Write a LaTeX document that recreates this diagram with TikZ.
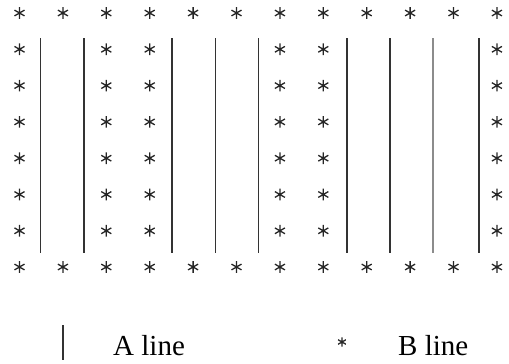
\documentclass[tikz,border=0pt]{standalone}
\usepackage{fontspec}
\setmainfont{Liberation Serif}
\begin{document}
\begin{tikzpicture}[x=1pt,y=-1pt,
  bstar/.style={circle, inner sep=0pt, minimum size=#1, 
    path picture={
      \draw[line width=1.3pt, black!85]
        ([shift={(90:0.43*#1)}]path picture bounding box.center) -- ([shift={(270:0.43*#1)}]path picture bounding box.center)
        ([shift={(30:0.43*#1)}]path picture bounding box.center) -- ([shift={(210:0.43*#1)}]path picture bounding box.center)
        ([shift={(150:0.43*#1)}]path picture bounding box.center) -- ([shift={(330:0.43*#1)}]path picture bounding box.center);
    }},
  bstar/.default=13.5pt,
  aline/.style={line width=1.2pt, black!80},
  legtext/.style={font=\fontsize{29}{32}\selectfont, inner sep=0pt, anchor=base west}
]
\useasboundingbox (0,0) rectangle (509,364);
% asterisks, top and bottom rows
\foreach \i in {0,...,11} {
  \node[bstar] (t\i) at (19.5+43.4*\i, 13) {};
  \node[bstar] (b\i) at (19.5+43.4*\i, 267) {};
}
% inner rows
\foreach \i in {0,2,3,6,7,11} {
  \foreach \k in {1,...,6} {
    \node[bstar] (s\i-\k) at (19.5+43.4*\i, 13+36.3*\k) {};
  }
}
% vertical A lines
\foreach \x [count=\n] in {40.5,84,172,215.5,258.5,347,390,479} {
  \coordinate (la\n) at (\x,38);
  \coordinate (lb\n) at (\x,253);
  \draw[aline] (la\n) -- (lb\n);
}
\coordinate (lg1) at (433,38);
\coordinate (lg2) at (433,253);
\draw[line width=1.1pt, black!45] (lg1) -- (lg2);
% legend
\coordinate (legA1) at (63,325);
\coordinate (legA2) at (63,360);
\draw[aline] (legA1) -- (legA2);
\node[legtext] (atext) at (113,355) {A line};
\node[bstar=10.5pt] (legB) at (342,342) {};
\node[legtext] (btext) at (398,355) {B line};
\end{tikzpicture}
\end{document}
